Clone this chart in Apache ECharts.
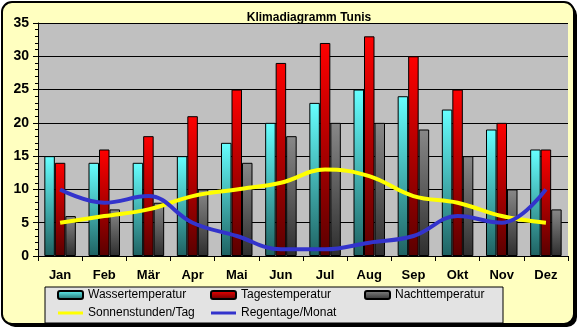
<!DOCTYPE html>
<html>
<head>
<meta charset="utf-8">
<script src="https://cdn.jsdelivr.net/npm/echarts@6/dist/echarts.min.js"></script>
<style>
html,body{margin:0;padding:0;background:#fff;}
#chart{width:582px;height:331px;}
</style>
</head>
<body>
<div id="chart"></div>
<script>
// Klimadaten Tunis
const months = ['Jan','Feb','Mär','Apr','Mai','Jun','Jul','Aug','Sep','Okt','Nov','Dez'];
const wassertemperatur = [15,14,14,15,17,20,23,25,24,22,19,16];
const tagestemperatur  = [14,16,18,21,25,29,32,33,30,25,20,16];
const nachttemperatur  = [6,7,8,10,14,18,20,20,19,15,10,7];
const sonnenstunden    = [5,6,7,9,10,11,13,12,9,8,6,5];
const regentage        = [10,8,9,5,3,1,1,2,3,6,5,10];
const yTicks = [0,5,10,15,20,25,30,35];

const chart = echarts.init(document.getElementById('chart'), null, {renderer:'canvas'});

function grad(top, bottom){
  return new echarts.graphic.LinearGradient(0,0,0,1,[{offset:0,color:top},{offset:1,color:bottom}]);
}

const barBase = {type:'bar', barWidth:10.5, barGap:'0%'};

// flat bar used as legend marker for the line series
const lineIcon = 'path://M0,0 L25,0 L25,3 L0,3 Z';

const legendText = {fontFamily:'Arial', fontSize:12, color:'#000', lineHeight:14};
const legendBase = {orient:'vertical', top:288, itemGap:4, itemWidth:25, itemHeight:8,
  textStyle:legendText, selectedMode:false, padding:0};

chart.setOption({
  animation:false,
  backgroundColor:'#fff',
  title:{
    text:'Klimadiagramm Tunis', left:304, top:7, textAlign:'center',
    textStyle:{fontFamily:'Arial', fontWeight:'bold', fontSize:12, color:'#000'}
  },
  graphic:[
    {type:'rect', z:-10, shape:{x:5,y:5,width:572,height:322,r:10}, style:{fill:'#000'}, silent:true},
    {type:'rect', z:-9, shape:{x:2,y:2,width:572,height:322,r:10}, style:{fill:'#ffffc0',stroke:'#000',lineWidth:2}, silent:true},
    {type:'rect', z:-8, shape:{x:45,y:287,width:458,height:36}, style:{fill:'#e3e3e3',stroke:'#000',lineWidth:1}, silent:true}
  ],
  grid:{left:38, right:14, top:23, bottom:75, containLabel:false, show:true, backgroundColor:'#c0c0c0', borderWidth:0},
  legend:[
    Object.assign({}, legendBase, {left:57, data:['Wassertemperatur',{name:'Sonnenstunden/Tag', icon:lineIcon}]}),
    Object.assign({}, legendBase, {left:210, data:['Tagestemperatur',{name:'Regentage/Monat', icon:lineIcon}]}),
    Object.assign({}, legendBase, {left:364, data:['Nachttemperatur']})
  ],
  xAxis:{
    type:'category', data:months,
    axisLine:{lineStyle:{color:'#000', width:1}},
    axisTick:{show:true, alignWithLabel:false, length:5, lineStyle:{color:'#000'}},
    axisLabel:{fontFamily:'Arial', fontWeight:'bold', fontSize:13, color:'#000', margin:13},
    splitLine:{show:false}
  },
  yAxis:{
    type:'value', min:yTicks[0], max:yTicks[yTicks.length-1], interval:5,
    axisLine:{show:true, lineStyle:{color:'#000', width:1}},
    axisTick:{show:true, length:5, lineStyle:{color:'#000'}},
    minorTick:{show:true, splitNumber:5, length:3, lineStyle:{color:'#000'}},
    axisLabel:{fontFamily:'Arial', fontWeight:'bold', fontSize:14, color:'#000', margin:9},
    splitLine:{show:true, lineStyle:{color:'#000', width:1}}
  },
  series:[
    Object.assign({}, barBase, {name:'Wassertemperatur', data:wassertemperatur,
      itemStyle:{borderColor:'#000', borderWidth:1, color:grad('#66ffff','#1f6262')}}),
    Object.assign({}, barBase, {name:'Tagestemperatur', data:tagestemperatur,
      itemStyle:{borderColor:'#000', borderWidth:1, color:grad('#ff0000','#5a0000')}}),
    Object.assign({}, barBase, {name:'Nachttemperatur', data:nachttemperatur,
      itemStyle:{borderColor:'#000', borderWidth:1, color:grad('#888888','#2e2e2e')}}),
    {name:'Sonnenstunden/Tag', type:'line', data:sonnenstunden, smooth:0.4, symbol:'none',
      lineStyle:{color:'#ffff00', width:4}, itemStyle:{color:'#ffff00', borderWidth:0}, z:5},
    {name:'Regentage/Monat', type:'line', data:regentage, smooth:0.4, symbol:'none',
      lineStyle:{color:'#3333cc', width:4}, itemStyle:{color:'#3333cc', borderWidth:0}, z:6}
  ]
});
</script>
</body>
</html>
